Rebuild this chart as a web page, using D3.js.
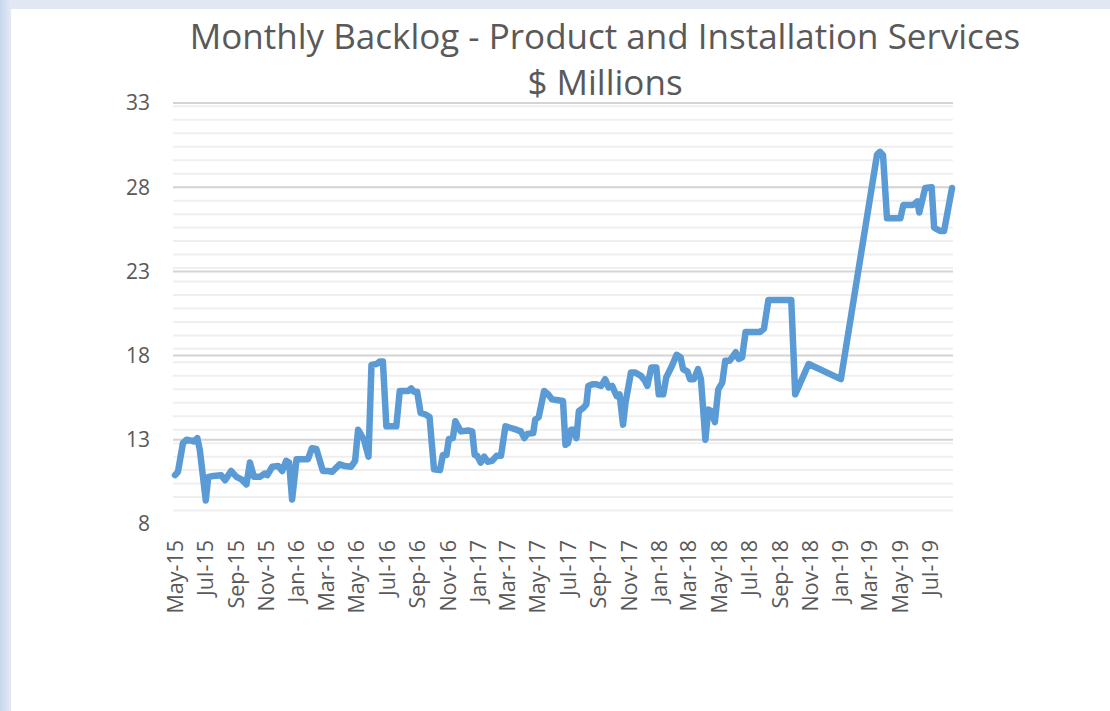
<!DOCTYPE html>
<html>
<head>
<meta charset="utf-8">
<script src="https://cdn.jsdelivr.net/npm/d3@7"></script>
<style>
  body { margin: 0; background: #fff; }
  text { font-family: "Open Sans", "Noto Sans", sans-serif; fill: #595959; }
</style>
</head>
<body>
<div id="chart"></div>
<script>
const dates = [
  '2015-05-01','2015-05-07','2015-05-17','2015-05-24','2015-06-03','2015-06-08','2015-06-15','2015-06-20',
  '2015-07-02','2015-07-07','2015-07-17','2015-08-02','2015-08-10','2015-08-22','2015-09-02','2015-09-12',
  '2015-09-22','2015-09-29','2015-10-07','2015-10-19','2015-10-29','2015-11-03','2015-11-13','2015-11-25',
  '2015-12-03','2015-12-11','2015-12-17','2015-12-23','2016-01-01','2016-01-24','2016-02-01','2016-02-10',
  '2016-02-23','2016-03-04','2016-03-13','2016-03-28','2016-04-06','2016-04-20','2016-04-28','2016-05-04',
  '2016-05-16','2016-05-25','2016-05-31','2016-06-10','2016-06-17','2016-06-23','2016-06-30','2016-07-20',
  '2016-07-27','2016-08-13','2016-08-19','2016-08-25','2016-08-31','2016-09-07','2016-09-17','2016-09-25',
  '2016-10-04','2016-10-16','2016-10-22','2016-10-29','2016-11-03','2016-11-11','2016-11-16','2016-11-27',
  '2016-12-12','2016-12-20','2016-12-25','2016-12-30','2017-01-06','2017-01-13','2017-01-20','2017-01-29',
  '2017-02-07','2017-02-16','2017-02-25','2017-03-08','2017-03-19','2017-03-28','2017-04-04','2017-04-10',
  '2017-04-22','2017-04-26','2017-05-03','2017-05-14','2017-05-22','2017-05-30','2017-06-11','2017-06-21',
  '2017-06-26','2017-07-01','2017-07-07','2017-07-13','2017-07-18','2017-07-23','2017-08-01','2017-08-07',
  '2017-08-11','2017-08-19','2017-08-27','2017-09-06','2017-09-14','2017-09-21','2017-09-28','2017-10-07',
  '2017-10-13','2017-10-20','2017-10-25','2017-11-05','2017-11-13','2017-11-25','2017-12-03','2017-12-08',
  '2017-12-16','2017-12-26','2017-12-31','2018-01-09','2018-01-15','2018-01-26','2018-02-05','2018-02-13',
  '2018-02-18','2018-02-27','2018-03-04','2018-03-12','2018-03-20','2018-03-26','2018-04-04','2018-04-10',
  '2018-04-16','2018-04-23','2018-04-30','2018-05-08','2018-05-14','2018-05-23','2018-05-28','2018-06-04',
  '2018-06-10','2018-06-17','2018-06-24','2018-07-23','2018-07-31','2018-08-09','2018-09-24','2018-10-02',
  '2018-10-29','2019-01-02','2019-03-16','2019-03-22','2019-03-28','2019-04-05','2019-05-02','2019-05-08',
  '2019-05-28','2019-06-05','2019-06-09','2019-06-21','2019-07-04','2019-07-09','2019-07-21','2019-07-29',
  '2019-08-14'
];

const backlog = [
  10.9, 11.1, 12.8, 13.0, 12.95, 12.9, 13.1, 12.4,
  9.4, 10.8, 10.85, 10.9, 10.6, 11.15, 10.8, 10.65,
  10.35, 11.65, 10.8, 10.8, 11.0, 10.9, 11.4, 11.45,
  11.15, 11.75, 11.65, 9.45, 11.85, 11.85, 12.5, 12.45,
  11.15, 11.15, 11.1, 11.55, 11.45, 11.4, 11.75, 13.6,
  13.0, 12.0, 17.45, 17.5, 17.65, 17.65, 13.8, 13.8,
  15.9, 15.9, 16.05, 15.85, 15.85, 14.6, 14.5, 14.35,
  11.25, 11.2, 12.1, 12.1, 13.05, 13.1, 14.1, 13.5,
  13.55, 13.5, 12.1, 12.05, 11.65, 12.0, 11.7, 11.75,
  12.05, 12.05, 13.8, 13.7, 13.6, 13.5, 13.1, 13.35,
  13.4, 14.2, 14.35, 15.9, 15.7, 15.4, 15.35, 15.3,
  12.7, 12.8, 13.6, 13.6, 13.1, 14.7, 14.9, 15.1,
  16.2, 16.3, 16.3, 16.2, 16.6, 16.1, 16.2, 15.6,
  15.7, 13.9, 15.2, 17.0, 17.0, 16.8, 16.5, 16.2,
  17.3, 17.3, 15.7, 15.7, 16.7, 17.35, 18.05, 17.9,
  17.2, 17.05, 16.6, 16.6, 17.2, 16.6, 13.0, 14.8,
  14.7, 14.05, 16.0, 16.4, 17.7, 17.7, 17.9, 18.2,
  17.8, 17.9, 19.4, 19.4, 19.6, 21.3, 21.3, 15.7,
  17.5, 16.6, 29.95, 30.1, 29.9, 26.15, 26.15, 26.95,
  26.95, 27.15, 26.5, 27.95, 28.0, 25.6, 25.4, 25.4,
  27.95
];

const yTicks = [8, 13, 18, 23, 28, 33];
const titleLines = ['Monthly Backlog - Product and Installation Services', '$ Millions'];

const width = 1110, height = 711;
const plot = {left: 173, right: 953, top: 103, bottom: 524};

const parse = d3.timeParse('%Y-%m-%d');
const data = dates.map((d, i) => ({date: parse(d), value: backlog[i]}));

const x = d3.scaleTime()
  .domain(d3.extent(data, d => d.date))
  .range([175, 952]);
const y = d3.scaleLinear([8, 33], [plot.bottom, plot.top]);

const svg = d3.select('#chart')
  .append('svg')
  .attr('width', width)
  .attr('height', height);

// window frame round the chart
const grad = svg.append('defs').append('linearGradient')
  .attr('id', 'frame').attr('x1', 0).attr('x2', 1).attr('y1', 0).attr('y2', 0);
grad.append('stop').attr('offset', '0%').attr('stop-color', '#c6d6ec');
grad.append('stop').attr('offset', '100%').attr('stop-color', '#e3eaf5');
svg.append('rect').attr('width', width).attr('height', height).attr('fill', '#e1e8f4');
svg.append('rect').attr('width', 11).attr('height', height).attr('fill', 'url(#frame)');
svg.append('rect').attr('x', 11).attr('y', 9).attr('width', width - 11).attr('height', height - 9).attr('fill', '#fff');

// minor gridlines every 0.8
const minor = d3.range(1, 32).map(k => 8 + k * 0.8);
svg.append('g').selectAll('line')
  .data(minor)
  .enter().append('line')
  .attr('x1', plot.left).attr('x2', plot.right)
  .attr('y1', d => y(d)).attr('y2', d => y(d))
  .attr('stroke', '#efefef')
  .attr('stroke-width', 2);

// major gridlines (none drawn at the bottom)
svg.append('g').selectAll('line')
  .data(yTicks.slice(1))
  .enter().append('line')
  .attr('x1', plot.left).attr('x2', plot.right)
  .attr('y1', d => y(d)).attr('y2', d => y(d))
  .attr('stroke', '#d4d4d4')
  .attr('stroke-width', 2);

// y labels
svg.append('g').selectAll('text')
  .data(yTicks)
  .enter().append('text')
  .attr('x', 150)
  .attr('y', d => y(d))
  .attr('dy', '0.35em')
  .attr('text-anchor', 'end')
  .style('font-size', '21px')
  .text(d => d);

// x labels every two months
const xTicks = d3.timeMonth.every(2).range(parse('2015-05-01'), parse('2019-08-01'));
const fmt = d3.timeFormat('%b-%y');
svg.append('g').selectAll('text')
  .data(xTicks)
  .enter().append('text')
  .attr('transform', d => `translate(${x(d)},540) rotate(-90)`)
  .attr('dy', '0.36em')
  .attr('text-anchor', 'end')
  .style('font-size', '21.5px')
  .text(d => fmt(d));

// the series
const line = d3.line()
  .x(d => x(d.date))
  .y(d => y(d.value));

svg.append('path')
  .datum(data)
  .attr('d', line)
  .attr('fill', 'none')
  .attr('stroke', '#5b9bd5')
  .attr('stroke-width', 6.5)
  .attr('stroke-linejoin', 'round')
  .attr('stroke-linecap', 'round');

// title
svg.append('g').selectAll('text')
  .data(titleLines)
  .enter().append('text')
  .attr('x', 605)
  .attr('y', (d, i) => 49 + i * 46)
  .attr('text-anchor', 'middle')
  .style('font-size', '35px')
  .text(d => d);
</script>
</body>
</html>
